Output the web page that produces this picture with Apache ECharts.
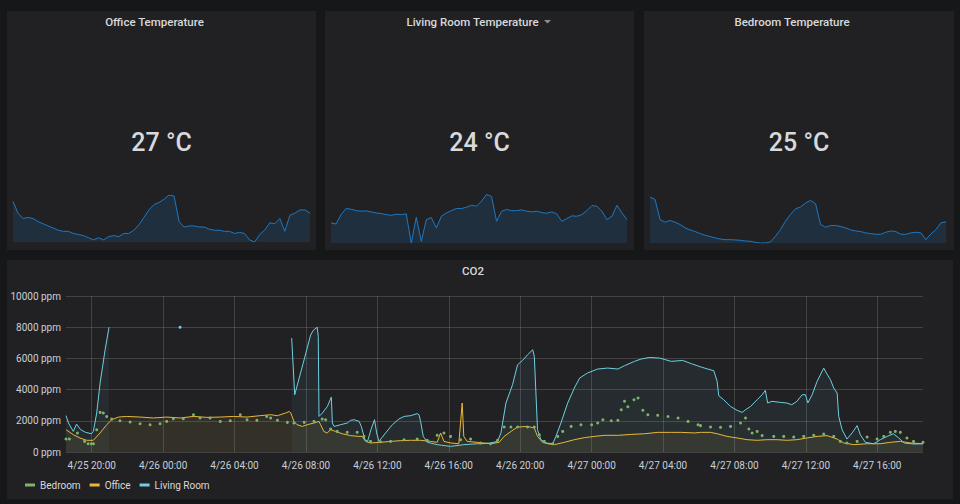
<!DOCTYPE html>
<html><head><meta charset="utf-8">
<script src="https://cdn.jsdelivr.net/npm/echarts@6/dist/echarts.min.js"></script>
<style>html,body{margin:0;padding:0;background:#161719;}#c{width:960px;height:504px;}</style>
</head><body><div id="c"></div>
<script>
// ---------- data ----------
const panelTitles = ['Office Temperature', 'Living Room Temperature', 'Bedroom Temperature'];
const currentTemps = [27, 24, 25];
const tempUnit = '°C';

const officeTemp = [27.9,26.8,26.3,26.4,26.3,26.0,25.8,25.6,25.4,25.2,25.1,25.1,24.9,24.8,24.7,24.5,24.3,24.5,24.3,24.6,
  24.7,24.6,24.9,24.9,25.2,25.7,26.4,27.1,27.6,27.8,28.1,28.5,28.4,26.0,25.5,25.6,25.6,25.5,25.5,25.3,
  25.2,25.2,25.1,25.1,24.9,25.0,24.9,24.3,24.1,24.8,25.2,25.9,25.8,26.3,25.1,26.6,26.8,27.1,27.1,26.8];
const livingTemp = [23.72,23.63,24.43,24.95,24.89,24.77,24.72,24.75,24.66,24.57,24.52,24.43,24.37,24.46,24.43,24.49,22.0,24.2,22.14,24.0,
  24.17,23.29,24.29,24.57,24.77,24.95,24.95,25.06,25.23,25.15,25.58,26.15,25.98,23.86,24.72,24.86,24.77,24.77,24.83,24.72,
  24.66,24.72,24.6,24.55,24.66,24.49,23.86,24.09,24.32,24.29,24.43,24.77,25.2,25.15,24.72,24.0,24.29,25.23,24.57,24.0];
const bedroomTemp = [28.17,27.85,25.15,24.79,25.02,24.79,24.48,24.03,23.76,23.53,23.26,23.04,22.86,22.68,22.54,22.45,22.45,22.41,22.36,22.27,
  22.23,22.09,22.0,22.0,22.14,22.9,23.8,24.93,25.83,26.59,26.82,27.36,27.72,27.27,24.48,24.12,24.34,24.34,24.21,24.03,
  23.76,23.62,23.53,23.35,23.26,23.17,23.17,23.44,23.62,23.53,23.17,23.17,23.35,23.44,23.35,22.45,23.22,23.8,24.7,24.84];

const co2Title = 'CO2';
const seriesNames = ['Bedroom', 'Office', 'Living Room'];
const timeRangeHours = [18.56, 66.56]; // hours since 4/25 00:00
const xTickHours = [20, 24, 28, 32, 36, 40, 44, 48, 52, 56, 60, 64];
const xTickLabels = ['4/25 20:00','4/26 00:00','4/26 04:00','4/26 08:00','4/26 12:00','4/26 16:00',
  '4/26 20:00','4/27 00:00','4/27 04:00','4/27 08:00','4/27 12:00','4/27 16:00'];

const bedroomHours = [18.56,18.75,19.2,19.6,19.8,19.98,20.1,20.28,20.47,20.65,20.84,21.12,21.58,22.15,22.71,23.27,23.83,24.2,24.57,25.13,
  25.7,26.07,26.63,27.2,27.76,28.32,28.7,29.25,29.8,30.02,30.4,30.96,31.33,31.9,32.45,32.91,33.1,33.38,33.75,34.31,
  34.87,35.25,35.62,36.18,36.74,37.49,38.23,38.79,39.35,39.73,40.1,40.66,41.22,41.78,42.34,42.73,43.1,43.48,43.85,44.41,
  44.79,45.07,45.35,45.82,46.1,46.38,46.85,47.4,48.0,48.34,48.63,49.1,49.47,49.66,49.84,50.03,50.37,50.6,50.87,51.15,
  51.7,52.28,52.84,53.4,53.96,54.1,54.66,55.22,55.78,56.34,56.62,56.81,56.99,57.27,57.55,58.2,58.76,59.32,59.88,60.44,
  61.0,61.56,61.93,62.3,62.87,63.43,63.99,64.36,64.73,65.01,65.29,65.66,66.03,66.56];
const bedroomCO2 = [830,830,1220,680,530,530,530,1430,2540,2500,2280,2110,2000,1920,1810,1750,1810,1960,2130,2130,
  2390,2180,2180,1960,2000,2390,2070,2030,2280,2180,2030,1900,1860,1900,1960,2110,2070,1470,1320,1260,
  1260,1000,680,660,680,790,830,750,1070,1220,1000,790,830,580,530,750,1600,1600,1600,1600,
  1600,1110,680,530,1000,1320,1640,1750,1750,1860,2070,2000,2030,2710,3250,2900,3350,3460,2670,2390,
  2350,2280,2180,1960,1750,1690,1600,1580,1640,1860,2180,1470,1220,1320,1050,1000,1000,960,1000,1070,
  1150,1000,680,580,680,960,830,1000,1260,1320,1260,900,680,620];

const officeHours = [18.56,18.97,19.34,19.72,20.09,20.47,20.84,21.12,21.5,21.96,22.71,23.46,24.2,24.95,25.7,26.45,27.2,27.95,28.7,29.44,
  30.02,30.4,30.86,31.07,31.15,31.33,31.5,31.8,32.07,32.45,32.73,32.82,33.0,33.19,33.38,33.66,34.03,34.5,34.96,35.15,
  35.34,35.62,36.18,36.74,37.3,37.86,38.42,38.98,39.35,39.54,39.73,40.1,40.56,40.75,40.84,41.03,41.59,42.34,42.82,43.1,
  43.48,43.85,44.41,44.79,44.97,45.25,45.54,45.91,46.47,47.03,47.6,48.15,48.75,49.5,50.25,50.97,51.7,52.46,53.02,53.78,
  54.1,54.66,55.03,55.59,56.15,56.71,57.27,57.83,58.39,58.95,59.5,60.07,60.63,61.19,61.75,62.12,62.68,63.43,64.17,64.73,
  65.29,65.85,66.56];
const officeCO2 = [1430,1110,900,750,750,1220,1750,2070,2240,2280,2240,2180,2240,2180,2280,2220,2240,2280,2240,2330,
  2390,2330,2500,2600,2500,1960,1750,1640,1750,1860,1960,1750,1320,1220,1430,1320,1170,1050,1000,1000,
  680,580,620,680,730,750,750,680,620,1220,680,580,530,3140,1000,680,620,530,620,1000,
  1320,1600,1640,1540,1000,620,530,470,620,790,920,1000,1070,1070,1130,1170,1260,1260,1260,1220,
  1260,1260,1170,1000,900,790,750,790,790,750,790,900,1000,1050,830,580,470,530,530,620,
  680,580,530];

const livingHours = [18.56,18.7,18.97,19.15,19.38,19.66,19.98,20.09,20.28,20.47,20.75,20.97,21.0,24.95,25.0,
  31.2,31.37,32.07,32.26,32.41,32.63,32.69,32.73,32.92,33.2,33.42,33.48,33.57,33.94,34.32,34.5,34.7,34.98,35.1,35.3,
  35.45,35.64,35.84,35.96,36.09,36.46,36.84,37.2,37.5,37.87,38.23,38.33,38.42,38.57,38.8,39.35,40.1,40.85,41.59,41.8,
  42.35,42.73,42.92,43.2,43.57,43.85,44.13,44.41,44.7,44.79,44.97,45.16,45.44,45.82,46.0,46.28,46.66,47.03,47.33,47.76,
  48.34,48.9,49.47,49.84,50.4,50.77,51.25,51.81,52.46,53.1,53.59,54.15,54.5,54.84,55.03,55.12,55.4,55.78,56.15,56.43,
  56.62,56.9,57.27,57.55,57.73,57.86,58.1,58.57,58.93,59.21,59.5,59.79,59.98,60.11,60.35,60.63,61.0,61.15,61.38,61.56,
  61.75,61.84,62.03,62.3,62.59,62.87,63.05,63.33,63.8,64.17,64.55,64.9,65.2,65.5,66.06,66.56];
const livingCO2 = [2330,1860,1320,1790,1430,1260,1170,1320,2500,4420,6550,8000,null,8000,null,
  7300,3670,6660,7500,7800,8000,7400,2280,2500,2920,3520,1860,1640,1750,1860,2030,2070,1960,1640,790,
  680,1430,2070,1220,680,1220,1750,2110,2280,2330,2460,2390,1960,1000,620,470,360,470,530,530,
  580,680,1220,3140,4310,5590,5870,6230,6550,6130,1430,790,580,530,1000,1860,3140,4100,4740,5060,
  5320,5380,5320,5530,5810,5960,6060,6020,5810,5870,5660,5440,5320,5210,4530,3610,3350,2920,2670,2540,
  2710,2920,3350,3670,3950,3140,3250,3180,3140,3030,3250,3670,3670,3140,3670,4530,5380,5060,4630,4100,
  3780,2280,1430,830,1220,1690,1110,620,530,790,1000,1170,900,580,510,530];

// ---------- layout & style ----------
const C = { page: '#161719', panel: '#212124', text: '#d8d9da', axis: '#c7d0d9', grid: 'rgba(255,255,255,0.15)',
  spark: 'rgb(31,120,193)', sparkFill: 'rgba(31,118,189,0.24)',
  series: ['#7EB26D', '#EAB839', '#6ED0E0'] };
const FONT = 'Roboto, "Helvetica Neue", Arial, sans-serif';
const topPanels = [{x:7,y:11,w:309,h:239},{x:325,y:11,w:309,h:239},{x:644,y:11,w:310,h:239}];
const sparkGrids = [{left:13,right:960-310,top:195,height:47},{left:331,right:960-627,top:194.5,height:48.5},{left:650,right:960-946,top:197,height:46}];
const co2Panel = {x:7,y:260,w:946,h:239};

const chart = echarts.init(document.getElementById('c'), null, {renderer:'svg', width:960, height:504});

const graphic = [];
topPanels.forEach((p, i) => {
  graphic.push({type:'rect', shape:{x:p.x,y:p.y,width:p.w,height:p.h}, style:{fill:C.panel}, z:-10, silent:true});
  graphic.push({type:'text', x:p.x + p.w/2 - 7, y:22, style:{text:panelTitles[i], fill:C.text, font:'500 11.5px ' + FONT, textAlign:'center', textVerticalAlign:'middle'}, silent:true});
  graphic.push({type:'text', x:p.x + p.w/2, y:142, style:{text:currentTemps[i] + ' ' + tempUnit, fill:C.text, font:'500 25px ' + FONT, textAlign:'center', textVerticalAlign:'middle'}, silent:true});
});
// dropdown caret next to Living Room title
graphic.push({type:'polygon', shape:{points:[[544,20],[551,20],[547.5,23.5]]}, style:{fill:'#8e8e8e'}, silent:true});
graphic.push({type:'rect', shape:{x:co2Panel.x,y:co2Panel.y,width:co2Panel.w,height:co2Panel.h}, style:{fill:C.panel}, z:-10, silent:true});
graphic.push({type:'text', x:co2Panel.x + co2Panel.w/2 - 7, y:271, style:{text:co2Title, fill:C.text, font:'500 11.5px ' + FONT, textAlign:'center', textVerticalAlign:'middle'}, silent:true});

const temps = [officeTemp, livingTemp, bedroomTemp];
const grids = sparkGrids.map(g => Object.assign({containLabel:false}, g));
grids.push({left:66, right:37, top:296, bottom:52});

const xAxes = temps.map((t, i) => ({type:'category', gridIndex:i, show:false, boundaryGap:false, data:t.map((_, k) => k)}));
const yAxes = temps.map((t, i) => ({type:'value', gridIndex:i, show:false, min:'dataMin', max:'dataMax', scale:true}));

xAxes.push({
  type:'value', gridIndex:3, min:timeRangeHours[0]/4, max:timeRangeHours[1]/4, splitNumber:12,
  axisLine:{show:false}, axisTick:{show:false},
  splitLine:{show:true, showMinLine:false, showMaxLine:false, lineStyle:{color:C.grid, width:1}},
  axisLabel:{color:C.axis, fontSize:10, fontFamily:FONT, margin:8, showMinLabel:false, showMaxLabel:false,
    formatter: v => { const k = xTickHours.indexOf(Math.round(v*4*100)/100); return k >= 0 ? xTickLabels[k] : ''; }}
});
yAxes.push({
  type:'value', gridIndex:3, min:0, max:10000, interval:2000,
  axisLine:{show:false}, axisTick:{show:false},
  splitLine:{lineStyle:{color:C.grid, width:1}},
  axisLabel:{color:C.axis, fontSize:10, fontFamily:FONT, margin:5, formatter: v => String(v) + ' ppm'}
});

const series = temps.map((t, i) => ({
  type:'line', xAxisIndex:i, yAxisIndex:i, data:t, showSymbol:false, silent:true,
  lineStyle:{color:C.spark, width:1}, areaStyle:{color:C.sparkFill}, emphasis:{disabled:true}
}));

function pairs(hours, vals) { return hours.map((h, i) => [h/4, vals[i]]); }
function isolated(vals, i) {
  return vals[i] != null && (i === 0 || vals[i-1] == null) && (i === vals.length - 1 || vals[i+1] == null);
}
series.push({
  name:seriesNames[0], type:'line', xAxisIndex:3, yAxisIndex:3, data:pairs(bedroomHours, bedroomCO2),
  showSymbol:true, showAllSymbol:true, symbol:'circle', symbolSize:3, connectNulls:false,
  itemStyle:{color:C.series[0]}, lineStyle:{color:C.series[0], width:1, opacity:0},
  areaStyle:{color:C.series[0], opacity:0.04}, emphasis:{disabled:true}, silent:true
});
series.push({
  name:seriesNames[1], type:'line', xAxisIndex:3, yAxisIndex:3, data:pairs(officeHours, officeCO2),
  showSymbol:false, connectNulls:false,
  itemStyle:{color:C.series[1]}, lineStyle:{color:C.series[1], width:1},
  areaStyle:{color:C.series[1], opacity:0.07}, emphasis:{disabled:true}, silent:true
});
series.push({
  name:seriesNames[2], type:'line', xAxisIndex:3, yAxisIndex:3, data:pairs(livingHours, livingCO2),
  showSymbol:true, showAllSymbol:true, symbol:'circle', connectNulls:false,
  symbolSize:(v, p) => isolated(livingCO2, p.dataIndex) ? 3 : 0,
  itemStyle:{color:C.series[2]}, lineStyle:{color:C.series[2], width:1},
  areaStyle:{color:C.series[2], opacity:0.06}, emphasis:{disabled:true}, silent:true
});

chart.setOption({
  backgroundColor: C.page,
  animation:false,
  textStyle:{fontFamily:FONT},
  graphic: graphic,
  grid: grids,
  xAxis: xAxes,
  yAxis: yAxes,
  legend:{
    left:20, top:475, itemWidth:10, itemHeight:3, itemGap:9, icon:'rect',
    data: seriesNames,
    textStyle:{color:C.text, fontSize:10, fontFamily:FONT}, selectedMode:false
  },
  series: series
});
</script>
</body></html>
